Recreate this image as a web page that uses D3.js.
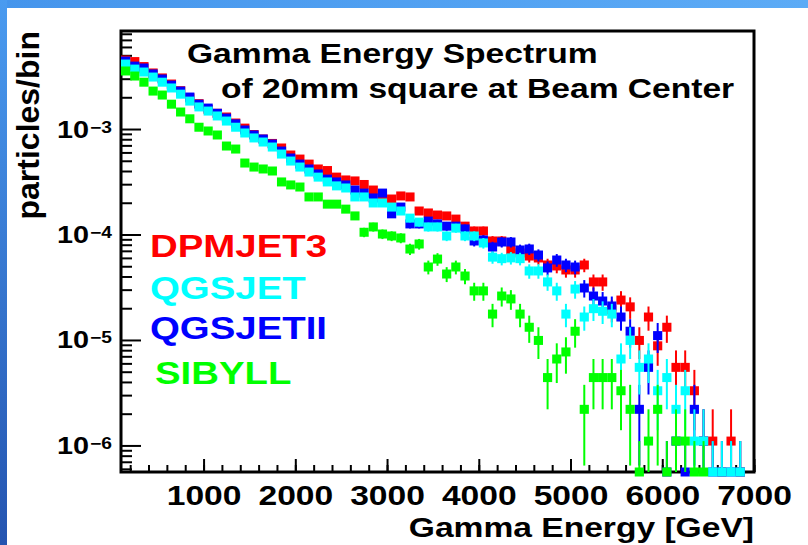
<!DOCTYPE html>
<html>
<head>
<meta charset="utf-8">
<script src="https://cdn.jsdelivr.net/npm/d3@7"></script>
<style>
  body { margin: 0; background: #fff; }
  text { font-family: "Liberation Sans", Arial, Helvetica, sans-serif; font-weight: bold; }
</style>
</head>
<body>
<div id="chart"></div>
<script>
// bin centres, 100 GeV bins from 100 to 7000 GeV
var binCenters = d3.range(150, 7000, 100);
var xTickLabels = [1000, 2000, 3000, 4000, 5000, 6000, 7000];
var yTickExponents = [-3, -4, -5, -6];
var seriesNames = ["DPMJET3", "QGSJET", "QGSJETII", "SIBYLL"];
// value of a single entry (lowest non-zero level)
var countUnit = 1.1e-6;

// particles/bin per bin, null = nothing drawn, 0 = empty bin (drawn on the axis)
var dpmjet3 = [4.51e-3, 4.36e-3, 3.91e-3, 3.40e-3, 3.05e-3, 2.67e-3, 2.31e-3, 1.97e-3, 1.74e-3, 1.53e-3,
  1.41e-3, 1.30e-3, 1.14e-3, 1.02e-3, 8.87e-4, 8.04e-4, 7.30e-4, 6.61e-4, 5.67e-4, 5.19e-4,
  4.65e-4, 4.18e-4, 4.04e-4, 3.50e-4, 3.29e-4, 3.22e-4, 2.98e-4, 2.64e-4, 2.37e-4, 2.17e-4,
  2.32e-4, 2.27e-4, 1.67e-4, 1.60e-4, 1.53e-4, 1.50e-4, 1.40e-4, 1.20e-4, 1.08e-4, 1.08e-4,
  8.68e-5, 8.68e-5, 7.13e-5, 6.68e-5, 6.25e-5, 5.99e-5, 5.14e-5, 5.03e-5, 4.61e-5, 4.61e-5,
  5.14e-5, 3.55e-5, 3.55e-5, 1.93e-5, 2.39e-5, 2.06e-5, 9.9e-6, 1.65e-5, 8.8e-6, 1.32e-5,
  5.5e-6, 5.5e-6, 3.3e-6, 1.1e-6, 1.1e-6, 0, 1.1e-6, 0, null];

var qgsjet = [4.13e-3, 3.70e-3, 3.47e-3, 3.11e-3, 2.78e-3, 2.45e-3, 2.14e-3, 1.84e-3, 1.62e-3, 1.48e-3,
  1.33e-3, 1.19e-3, 1.04e-3, 9.17e-4, 8.23e-4, 7.53e-4, 6.75e-4, 5.79e-4, 4.97e-4, 4.36e-4,
  3.91e-4, 3.50e-4, 3.15e-4, 2.89e-4, 2.76e-4, 2.27e-4, 2.27e-4, 1.99e-4, 1.99e-4, 1.82e-4,
  1.67e-4, 1.43e-4, 1.31e-4, 1.18e-4, 1.18e-4, 9.68e-5, 1.15e-4, 9.68e-5, 9.68e-5, 8.31e-5,
  6.1e-5, 5.9e-5, 6.0e-5, 5.9e-5, 4.51e-5, 4.51e-5, 3.55e-5, 2.92e-5, 1.76e-5, 3.04e-5,
  1.65e-5, 1.98e-5, 1.87e-5, 1.76e-5, 6.6e-6, 9.9e-6, 5.5e-6, 6.6e-6, 3.3e-6, 4.4e-6,
  2.2e-6, 3.3e-6, 1.1e-6, 1.1e-6, 0, 0, 0, 0, null];

var qgsjet2 = [4.41e-3, 3.95e-3, 3.79e-3, 3.33e-3, 2.98e-3, 2.61e-3, 2.29e-3, 2.01e-3, 1.72e-3, 1.58e-3,
  1.41e-3, 1.27e-3, 1.12e-3, 9.79e-4, 8.78e-4, 8.04e-4, 7.21e-4, 6.18e-4, 5.31e-4, 4.65e-4,
  4.18e-4, 3.75e-4, 3.35e-4, 3.15e-4, 2.95e-4, 2.64e-4, 2.47e-4, 2.22e-4, 2.47e-4, 1.57e-4,
  1.82e-4, 1.26e-4, 1.26e-4, 1.34e-4, 1.26e-4, 1.20e-4, 1.20e-4, 1.13e-4, 8.68e-5, 8.87e-5,
  7.61e-5, 8.49e-5, 8.49e-5, 7.13e-5, 7.29e-5, 6.39e-5, 4.82e-5, 5.73e-5, 5.14e-5, 4.92e-5,
  3.11e-5, 2.61e-5, 2.34e-5, 2.10e-5, 1.65e-5, 1.21e-5, 2.2e-6, 5.5e-6, 1.1e-5, 0,
  1.1e-6, 0, 2.2e-6, 1.1e-6, 0, 0, 0, 0, null];

var sibyll = [3.55e-3, 3.18e-3, 2.78e-3, 2.29e-3, 2.10e-3, 1.72e-3, 1.45e-3, 1.25e-3, 1.04e-3, 9.58e-4,
  8.78e-4, 6.90e-4, 6.46e-4, 4.76e-4, 4.36e-4, 4.18e-4, 4.00e-4, 3.15e-4, 2.95e-4, 2.82e-4,
  2.27e-4, 2.27e-4, 1.94e-4, 1.94e-4, 1.74e-4, 1.50e-4, 1.05e-4, 1.18e-4, 1.01e-4, 9.68e-5,
  9.27e-5, 7.28e-5, 8.13e-5, 4.92e-5, 5.85e-5, 4.22e-5, 4.92e-5, 4.04e-5, 2.92e-5, 2.92e-5,
  1.76e-5, 2.61e-5, 2.45e-5, 1.76e-5, 1.32e-5, 9.9e-6, 4.4e-6, 6.6e-6, 7.7e-6, 1.21e-5,
  2.2e-6, 4.4e-6, 4.4e-6, 4.4e-6, 3.3e-6, 2.2e-6, 0, 1.1e-6, 2.2e-6, 0,
  1.1e-6, 1.1e-6, 0, 0, null, null, null, null, null];

(function() {

    var width = 808,
        height = 545;

    var left = 121, right = 754, top = 31, bottom = 472;
    var stretch = 1.2;

    var svg = d3.select("#chart")
        .append('svg')
        .attr('width', width)
        .attr('height', height);

    var defs = svg.append('defs');
    var gTop = defs.append('linearGradient').attr('id', 'bandTop')
        .attr('x1', 0).attr('x2', 1).attr('y1', 0).attr('y2', 0);
    gTop.append('stop').attr('offset', '0%').attr('stop-color', '#4595ec');
    gTop.append('stop').attr('offset', '100%').attr('stop-color', '#5cabf6');
    var gLeft = defs.append('linearGradient').attr('id', 'bandLeft')
        .attr('x1', 0).attr('x2', 0).attr('y1', 0).attr('y2', 1);
    gLeft.append('stop').attr('offset', '0%').attr('stop-color', '#4a9bf0');
    gLeft.append('stop').attr('offset', '100%').attr('stop-color', '#2454b0');

    svg.append('rect').attr('width', width).attr('height', height).attr('fill', '#fff');
    svg.append('rect').attr('width', width).attr('height', 8).attr('fill', 'url(#bandTop)');
    svg.append('rect').attr('width', 7).attr('height', height).attr('fill', 'url(#bandLeft)');

    var x = d3.scaleLinear().domain([100, 7000]).range([left, right]);
    var y = d3.scaleLog().domain([5.6e-7, 8.5e-3]).range([bottom, top]);

    // stretched bold text, like the original
    function label(parent, px, py, str, size, color, anchor) {
        return parent.append('text')
            .attr('transform', 'translate(' + px + ',' + py + ') scale(' + stretch + ',1)')
            .attr('text-anchor', anchor || 'start')
            .style('font-size', size + 'px')
            .attr('fill', color || '#000')
            .text(str);
    }

    // x axis
    var minorX = d3.range(200, 7001, 200);
    svg.append('g')
        .attr('transform', 'translate(0,' + bottom + ')')
        .call(d3.axisBottom(x).tickValues(minorX).tickSize(-7).tickFormat(''))
        .call(function(g) { g.select('.domain').remove(); g.selectAll('line').attr('stroke-width', 2); });

    var xAxis = svg.append('g')
        .attr('transform', 'translate(0,' + bottom + ')')
        .call(d3.axisBottom(x).tickValues(xTickLabels).tickSize(-13).tickFormat(d3.format('d')))
        .call(function(g) { g.select('.domain').remove(); g.selectAll('line').attr('stroke-width', 2); });
    xAxis.selectAll('text')
        .attr('y', 33).attr('dy', null)
        .attr('transform', 'scale(' + stretch + ',1)')
        .attr('fill', '#000')
        .style('font-size', '28px')
        .style('font-family', '"Liberation Sans", Arial, sans-serif')
        .style('font-weight', 'bold');

    // y axis
    var minorY = y.ticks().filter(function(d) {
        var l = Math.log10(d);
        return Math.abs(l - Math.round(l)) > 1e-6;
    });
    svg.append('g')
        .attr('transform', 'translate(' + left + ',0)')
        .call(d3.axisLeft(y).tickValues(minorY).tickSize(-11).tickFormat(''))
        .call(function(g) { g.select('.domain').remove(); g.selectAll('line').attr('stroke-width', 2); });

    var yMajor = yTickExponents.map(function(e) { return Math.pow(10, e); });
    var yAxis = svg.append('g')
        .attr('transform', 'translate(' + left + ',0)')
        .call(d3.axisLeft(y).tickValues(yMajor).tickSize(-20).tickFormat(''))
        .call(function(g) { g.select('.domain').remove(); g.selectAll('line').attr('stroke-width', 2); });
    yAxis.selectAll('.tick').each(function(d, i) {
        var t = d3.select(this);
        label(t, -32, 8, '10', 24, '#000', 'end');
        label(t, -31, 3, '\u2212' + (-yTickExponents[i]), 16, '#000', 'start');
    });

    // frame
    svg.append('rect')
        .attr('x', left).attr('y', top)
        .attr('width', right - left).attr('height', bottom - top)
        .attr('fill', 'none').attr('stroke', '#000').attr('stroke-width', 3);

    // series, drawn in this order
    var series = [
        { name: seriesNames[0], values: dpmjet3, color: '#ff0000' },
        { name: seriesNames[2], values: qgsjet2, color: '#0000ff' },
        { name: seriesNames[1], values: qgsjet, color: '#00ffff' },
        { name: seriesNames[3], values: sibyll, color: '#00ff00' }
    ];

    var markW = x(200) - x(100),
        markH = 9;

    series.forEach(function(s) {
        var pts = [];
        s.values.forEach(function(v, i) {
            if (v === null) return;
            var p = { e: binCenters[i], v: v };
            if (v > 0) {
                var err = Math.sqrt(v * countUnit);
                p.cy = y(v);
                p.y1 = (v - err) > y.domain()[0] ? y(v - err) : bottom;
                p.y2 = y(v + err);
            } else {
                p.cy = bottom;
                p.y1 = bottom;
                p.y2 = y(countUnit);
            }
            pts.push(p);
        });

        var g = svg.append('g').attr('class', 'series');
        g.selectAll('.err')
            .data(pts)
            .enter().append('line')
            .attr('class', 'err')
            .attr('x1', function(d) { return x(d.e); })
            .attr('x2', function(d) { return x(d.e); })
            .attr('y1', function(d) { return d.y1; })
            .attr('y2', function(d) { return d.y2; })
            .attr('stroke', s.color)
            .attr('stroke-width', 2);
        g.selectAll('.mark')
            .data(pts)
            .enter().append('rect')
            .attr('class', 'mark')
            .attr('x', function(d) { return x(d.e) - markW / 2; })
            .attr('y', function(d) { return d.cy - markH / 2; })
            .attr('width', markW)
            .attr('height', markH)
            .attr('fill', s.color);
    });

    // title
    label(svg, 187, 63, 'Gamma Energy Spectrum', 28);
    label(svg, 221, 98, 'of 20mm square at Beam Center', 28);

    // legend
    label(svg, 150, 257, seriesNames[0], 32, '#ff0000');
    label(svg, 150, 299, seriesNames[1], 32, '#00ffff');
    label(svg, 150, 339, seriesNames[2], 32, '#0000ff');
    label(svg, 155, 384, seriesNames[3], 32, '#00ff00');

    // axis titles
    label(svg, right, 537, 'Gamma Energy [GeV]', 28, '#000', 'end');
    svg.append('text')
        .attr('transform', 'translate(38.5,' + top + ') rotate(-90)')
        .attr('text-anchor', 'end')
        .style('font-size', '32px')
        .text('particles/bin');

})();
</script>
</body>
</html>
